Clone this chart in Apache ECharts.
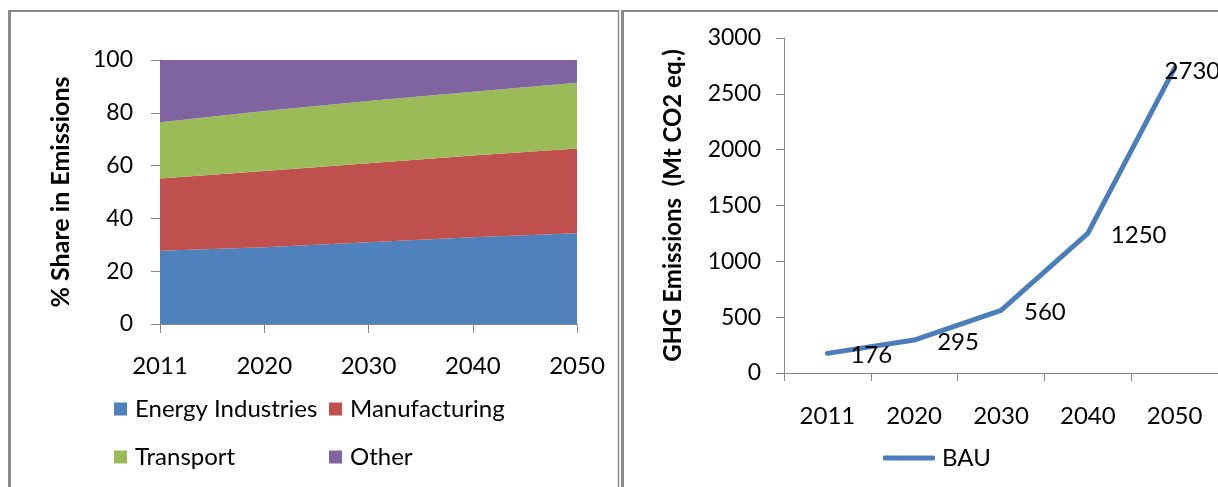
<!DOCTYPE html>
<html>
<head>
<meta charset="utf-8">
<script src="https://cdn.jsdelivr.net/npm/echarts@6/dist/echarts.min.js"></script>
<style>
html,body{margin:0;padding:0;background:#fff;}
#c{width:1218px;height:487px;}
</style>
</head>
<body>
<div id="c"></div>
<script>
// ---- Data ----
const years = ['2011', '2020', '2030', '2040', '2050'];
const energyIndustries = [27.7, 29.1, 31.0, 32.9, 34.4];
const manufacturing = [27.4, 28.9, 29.9, 30.9, 32.1];
const transport = [21.3, 22.7, 23.6, 24.2, 24.9];
const other = [23.6, 19.3, 15.5, 12.0, 8.6];
const bau = [176, 295, 560, 1250, 2730];
const shareTicks = [0, 20, 40, 60, 80, 100];
const ghgTicks = [0, 500, 1000, 1500, 2000, 2500, 3000];

const FONT = 'Lato, "Open Sans", sans-serif';
const AXIS_COLOR = '#868686';
const colors = { energy: '#4F81BD', manu: '#C0504D', trans: '#9BBB59', other: '#8064A2', bau: '#4A7EBB' };

const chart = echarts.init(document.getElementById('c'), null, { renderer: 'canvas' });

function areaSeries(name, data, color) {
  return {
    name: name, type: 'line', stack: 'share', data: data,
    xAxisIndex: 0, yAxisIndex: 0,
    symbol: 'none', smooth: false,
    lineStyle: { width: 0, color: color },
    itemStyle: { color: color },
    areaStyle: { color: color, opacity: 1 },
    emphasis: { disabled: true }
  };
}

const bauData = bau.map((v, i) => {
  if (i === bau.length - 1) {
    return { value: v, label: { offset: [-33, 3] } };
  }
  return v;
});

const plain = v => String(v);

const option = {
  animation: false,
  textStyle: { fontFamily: FONT, color: '#000' },
  graphic: [
    { type: 'line', shape: { x1: 9.5, y1: 10, x2: 9.5, y2: 487 }, style: { stroke: '#8a8a8a', lineWidth: 3 } },
    { type: 'line', shape: { x1: 8, y1: 11, x2: 619, y2: 11 }, style: { stroke: '#8a8a8a', lineWidth: 2 } },
    { type: 'line', shape: { x1: 618.5, y1: 10, x2: 618.5, y2: 487 }, style: { stroke: '#8a8a8a', lineWidth: 1.5 } },
    { type: 'line', shape: { x1: 622.5, y1: 10, x2: 622.5, y2: 487 }, style: { stroke: '#8a8a8a', lineWidth: 3 } },
    { type: 'line', shape: { x1: 621, y1: 11, x2: 1218, y2: 11 }, style: { stroke: '#8a8a8a', lineWidth: 2 } }
  ],
  grid: [
    { left: 160, top: 60, width: 417, height: 264, containLabel: false },
    { left: 784, top: 38, width: 448, height: 335, containLabel: false }
  ],
  xAxis: [
    {
      type: 'category', gridIndex: 0, data: years, boundaryGap: false,
      axisLine: { lineStyle: { color: AXIS_COLOR, width: 1 } },
      axisTick: { show: true, length: 9, lineStyle: { color: AXIS_COLOR } },
      axisLabel: { fontSize: 24, color: '#000', margin: 30, fontFamily: FONT },
      splitLine: { show: false }
    },
    {
      type: 'category', gridIndex: 1, data: years, boundaryGap: true,
      axisLine: { lineStyle: { color: AXIS_COLOR, width: 1 } },
      axisTick: { show: true, length: 8, lineStyle: { color: AXIS_COLOR } },
      axisLabel: { fontSize: 24, color: '#000', margin: 31, fontFamily: FONT },
      splitLine: { show: false }
    }
  ],
  yAxis: [
    {
      type: 'value', gridIndex: 0,
      min: shareTicks[0], max: shareTicks[shareTicks.length - 1], interval: shareTicks[1] - shareTicks[0],
      name: '% Share in Emissions', nameLocation: 'middle', nameRotate: 90, nameGap: 87,
      nameTextStyle: { fontSize: 25, fontWeight: 'bold', color: '#000', fontFamily: FONT },
      axisLine: { show: true, lineStyle: { color: AXIS_COLOR, width: 1 } },
      axisTick: { show: true, length: 9, lineStyle: { color: AXIS_COLOR } },
      axisLabel: { fontSize: 23, color: '#000', margin: 27, fontFamily: FONT, formatter: plain },
      splitLine: { show: false }
    },
    {
      type: 'value', gridIndex: 1,
      min: ghgTicks[0], max: ghgTicks[ghgTicks.length - 1], interval: ghgTicks[1] - ghgTicks[0],
      name: 'GHG Emissions  (Mt CO2 eq.)', nameLocation: 'middle', nameRotate: 90, nameGap: 99,
      nameTextStyle: { fontSize: 24, fontWeight: 'bold', color: '#000', fontFamily: FONT },
      axisLine: { show: true, lineStyle: { color: AXIS_COLOR, width: 1 } },
      axisTick: { show: true, length: 8, lineStyle: { color: AXIS_COLOR } },
      axisLabel: { fontSize: 23, color: '#000', margin: 23, fontFamily: FONT, formatter: plain },
      splitLine: { show: false }
    }
  ],
  legend: [
    {
      orient: 'vertical', left: 109, top: 391, itemGap: 22,
      itemWidth: 13, itemHeight: 13, icon: 'rect',
      data: ['Energy Industries', 'Transport'],
      textStyle: { fontSize: 24, color: '#000', lineHeight: 26, fontFamily: FONT, padding: [0, 0, 0, 3] },
      selectedMode: false
    },
    {
      orient: 'vertical', left: 324, top: 391, itemGap: 22,
      itemWidth: 13, itemHeight: 13, icon: 'rect',
      data: ['Manufacturing', 'Other'],
      textStyle: { fontSize: 24, color: '#000', lineHeight: 26, fontFamily: FONT, padding: [0, 0, 0, 3] },
      selectedMode: false
    },
    {
      orient: 'horizontal', left: 878, top: 440,
      itemWidth: 52, itemHeight: 5, icon: 'roundRect',
      data: ['BAU'],
      textStyle: { fontSize: 24, color: '#000', lineHeight: 26, fontFamily: FONT, padding: [0, 0, 0, 2] },
      selectedMode: false
    }
  ],
  series: [
    areaSeries('Energy Industries', energyIndustries, colors.energy),
    areaSeries('Manufacturing', manufacturing, colors.manu),
    areaSeries('Transport', transport, colors.trans),
    areaSeries('Other', other, colors.other),
    {
      name: 'BAU', type: 'line', data: bauData,
      xAxisIndex: 1, yAxisIndex: 1,
      symbol: 'circle', symbolSize: 0, showSymbol: true, smooth: false,
      lineStyle: { width: 5, color: colors.bau, cap: 'round', join: 'round' },
      itemStyle: { color: colors.bau },
      label: {
        show: true, position: 'right', distance: 23, offset: [0, 2],
        fontSize: 24, color: '#000', fontFamily: FONT
      },
      emphasis: { disabled: true }
    }
  ]
};

chart.setOption(option);
</script>
</body>
</html>
